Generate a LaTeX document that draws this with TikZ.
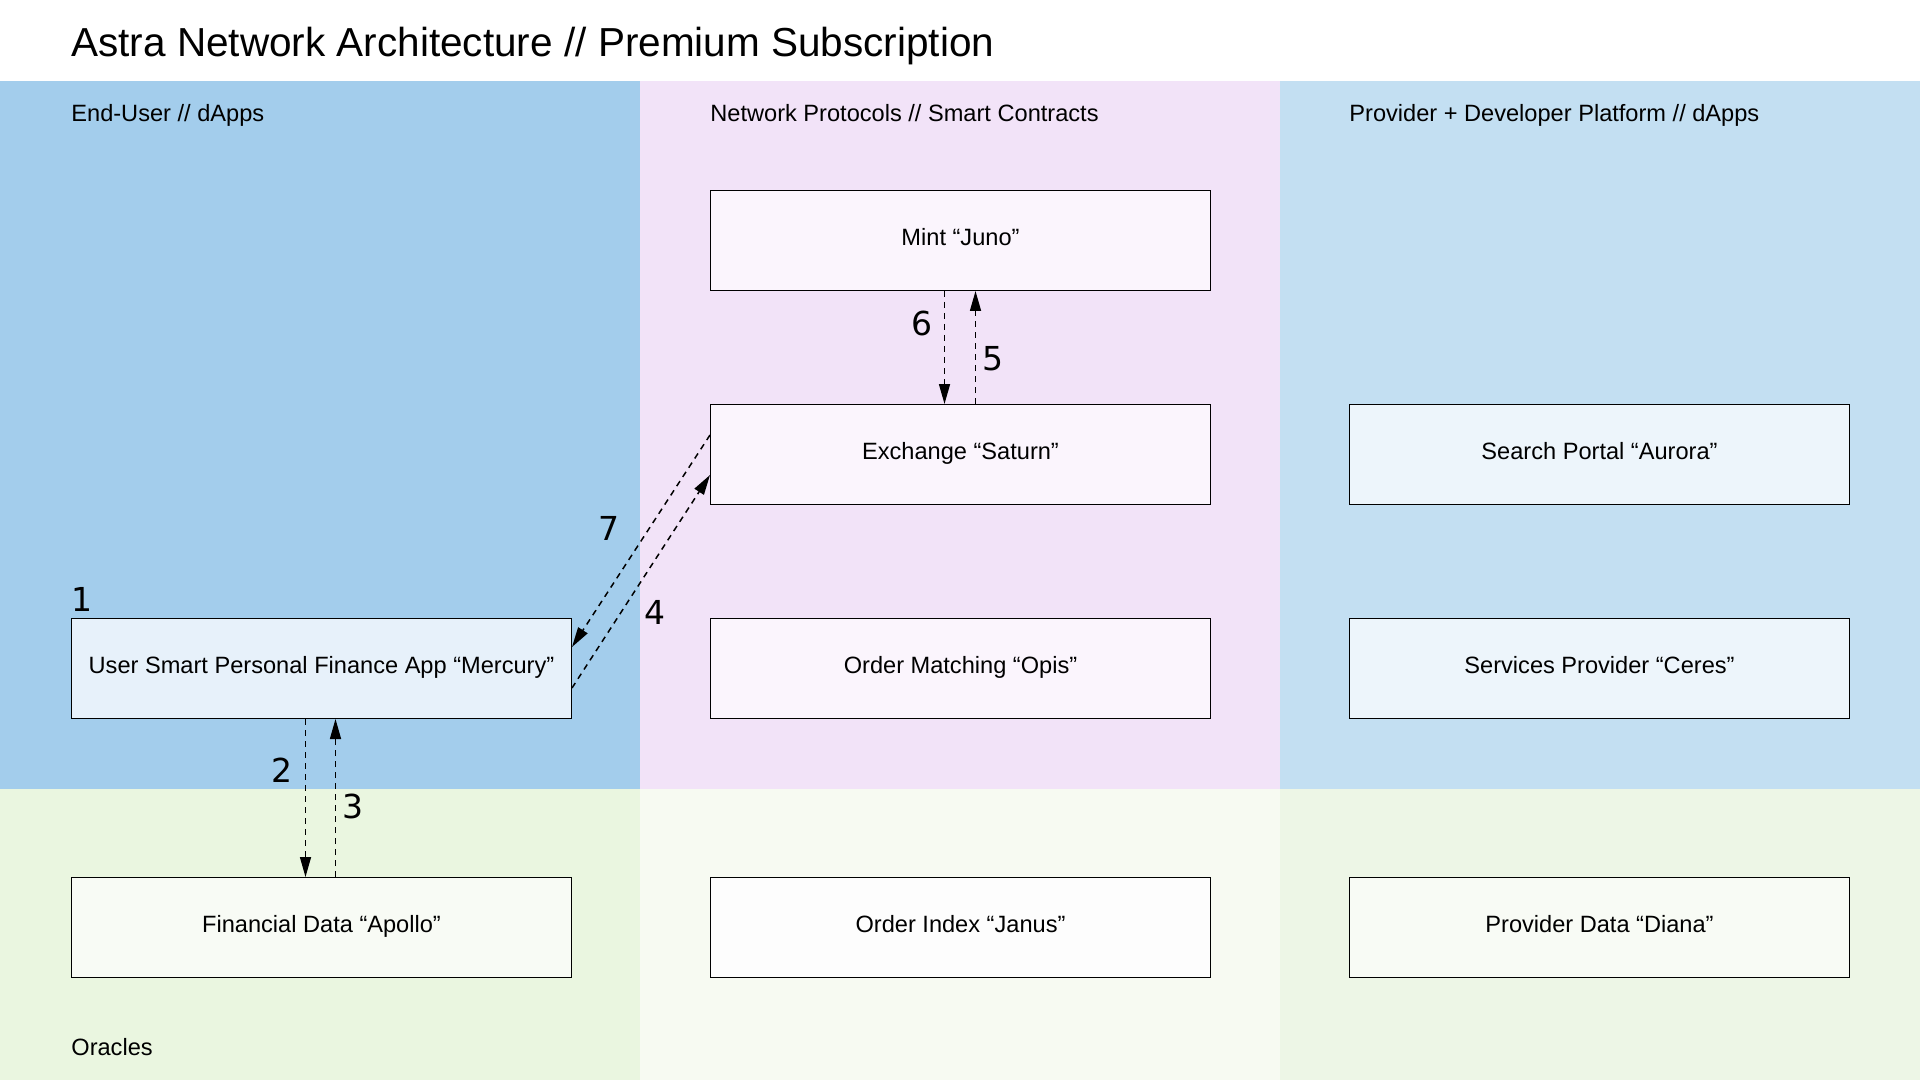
\documentclass[tikz,border=0pt]{standalone}
\usepackage{fontspec}
\setmainfont{Liberation Sans}
\newfontfamily\numfont{DejaVu Sans}
\usetikzlibrary{calc,arrows.meta}
\definecolor{laneA}{HTML}{A3CDEC}
\definecolor{laneB}{HTML}{F2E3F8}
\definecolor{laneC}{HTML}{C3DFF2}
\definecolor{laneD}{HTML}{EAF6E0}
\definecolor{laneE}{HTML}{F7FAF2}
\definecolor{laneF}{HTML}{EDF6E6}
\definecolor{boxA}{HTML}{E7F1FA}
\definecolor{boxB}{HTML}{FBF5FD}
\definecolor{boxC}{HTML}{EDF5FB}
\definecolor{boxD}{HTML}{F8FBF5}
\definecolor{boxE}{HTML}{FDFDFD}
\tikzset{
  comp/.style={draw=black, line width=0.5pt, minimum width=250pt, minimum height=50pt, inner sep=0pt, text height=8.6pt, text depth=4pt, font=\fontsize{11.8pt}{14pt}\selectfont, anchor=north west},
  lanelabel/.style={anchor=base west, inner sep=0pt, font=\fontsize{11.8pt}{14pt}\selectfont},
  flow/.style={line width=0.75pt, dash pattern=on 3pt off 2.5pt, -{Triangle[length=10pt,width=5.5pt]}},
  num/.style={inner sep=0pt, font=\numfont\fontsize{16.5pt}{18pt}\selectfont}
}
\begin{document}
\begin{tikzpicture}[x=0.5pt,y=-0.5pt]
\useasboundingbox (0,0) rectangle (1920,1080);
\fill[white] (0,0) rectangle (1920,1080);
% lanes
\fill[laneA] (0,81) rectangle (640,789);
\fill[laneB] (640,81) rectangle (1280,789);
\fill[laneC] (1280,81) rectangle (1920,789);
\fill[laneD] (0,789) rectangle (640,1080);
\fill[laneE] (640,789) rectangle (1280,1080);
\fill[laneF] (1280,789) rectangle (1920,1080);
% title and lane labels
\node[anchor=base west, inner sep=0pt, font=\fontsize{20.25pt}{24pt}\selectfont] (title) at (71,57) {Astra Network Architecture // Premium Subscription};
\node[lanelabel] (l1) at (71,122) {End-User // dApps};
\node[lanelabel] (l2) at (710,122) {Network Protocols // Smart Contracts};
\node[lanelabel] (l3) at (1349,122) {Provider + Developer Platform // dApps};
\node[lanelabel] (l4) at (71,1055) {Oracles};
% components
\node[comp, fill=boxB] (juno) at (710,190) {Mint “Juno”};
\node[comp, fill=boxB] (saturn) at (710,404) {Exchange “Saturn”};
\node[comp, fill=boxB] (opis) at (710,618) {Order Matching “Opis”};
\node[comp, fill=boxE] (janus) at (710,877) {Order Index “Janus”};
\node[comp, fill=boxC] (aurora) at (1349,404) {Search Portal “Aurora”};
\node[comp, fill=boxC] (ceres) at (1349,618) {Services Provider “Ceres”};
\node[comp, fill=boxD] (diana) at (1349,877) {Provider Data “Diana”};
\node[comp, fill=boxA] (mercury) at (71,618) {User Smart Personal Finance App “Mercury”};
\node[comp, fill=boxD] (apollo) at (71,877) {Financial Data “Apollo”};
% flows
\draw[flow] ($(mercury.south)+(-16,0)$) -- ($(apollo.north)+(-16,0)$);
\draw[flow] ($(apollo.north)+(14,0)$) -- ($(mercury.south)+(14,0)$);
\draw[flow] ($(mercury.north east)+(0,70)$) -- ($(saturn.north west)+(0,71)$);
\draw[flow] ($(saturn.north west)+(0,31)$) -- ($(mercury.north east)+(0,29)$);
\draw[flow] ($(saturn.north)+(15,0)$) -- ($(juno.south)+(15,0)$);
\draw[flow] ($(juno.south)+(-16,0)$) -- ($(saturn.north)+(-16,0)$);
% step numbers
\node[num, anchor=south west] (n1) at (71,612) {1};
\node[num] (n2) at (282,770) {2};
\node[num] (n3) at (353,806) {3};
\node[num] (n4) at (655,612) {4};
\node[num] (n5) at (993,359) {5};
\node[num] (n6) at (922,323) {6};
\node[num] (n7) at (609,528) {7};
\end{tikzpicture}
\end{document}
